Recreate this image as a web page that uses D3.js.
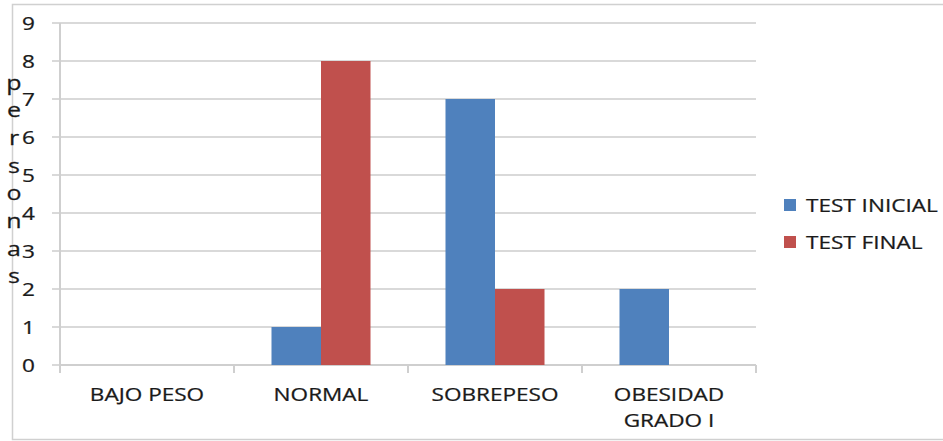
<!DOCTYPE html>
<html>
<head>
<meta charset="utf-8">
<script src="https://cdn.jsdelivr.net/npm/d3@7"></script>
<style>
  body { margin: 0; background: #fff; }
  svg { display: block; }
  text { font-family: "Open Sans", sans-serif; fill: #1a1a1a; stroke: #1a1a1a; stroke-width: 0.25; }
</style>
</head>
<body>
<svg id="chart" width="943" height="441"></svg>
<script>
// Category labels ("\n" marks a line break)
const categories = ["BAJO PESO", "NORMAL", "SOBREPESO", "OBESIDAD\nGRADO I"];
// Series
const seriesNames = ["TEST INICIAL", "TEST FINAL"];
const testInicial = [0, 1, 7, 2];
const testFinal = [0, 8, 2, 0];
// Value axis
const yTicks = [0, 1, 2, 3, 4, 5, 6, 7, 8, 9];
const yTitle = "personas";

const colors = ["#4f81bd", "#c0504d"];
const fontSize = 18.5;
const stretch = 1.22; // horizontal widening of the lettering

const svg = d3.select("#chart");
const plot = { left: 60, right: 756, top: 23, bottom: 365 };

// outer chart frame
svg.append("rect")
  .attr("x", 12.5).attr("y", 4.5)
  .attr("width", 940).attr("height", 435)
  .attr("fill", "none").attr("stroke", "#d0d0d0").attr("stroke-width", 1.5);

const x0 = d3.scaleBand().domain(categories).range([plot.left, plot.right]).padding(0);
const x1 = d3.scaleBand().domain(seriesNames)
  .range([x0.bandwidth() * 0.2155, x0.bandwidth() * 0.7845]).padding(0);
const y = d3.scaleLinear().domain([0, 9]).range([plot.bottom, plot.top]);

function label(g, txt, x, yy, anchor, size = fontSize, sx = stretch) {
  return g.append("text")
    .attr("transform", `translate(${x},${yy}) scale(${sx},1)`)
    .attr("text-anchor", anchor)
    .attr("dominant-baseline", "central")
    .attr("font-size", size)
    .text(txt);
}

// horizontal gridlines with their outside tick marks
const grid = svg.append("g");
grid.selectAll("line").data(yTicks).join("line")
  .attr("x1", plot.left - 8).attr("x2", plot.right)
  .attr("y1", d => y(d)).attr("y2", d => y(d))
  .attr("stroke", "#d9d9d9").attr("stroke-width", 2);

// value labels
const yLab = svg.append("g");
yTicks.forEach(t => label(yLab, String(t), 35, y(t), "end"));

// vertical axis line
svg.append("line")
  .attr("x1", plot.left).attr("x2", plot.left)
  .attr("y1", plot.top).attr("y2", plot.bottom + 8)
  .attr("stroke", "#cfcfcf").attr("stroke-width", 2);

// category axis line and tick marks between categories
svg.append("line")
  .attr("x1", plot.left).attr("x2", plot.right)
  .attr("y1", plot.bottom).attr("y2", plot.bottom)
  .attr("stroke", "#cfcfcf").attr("stroke-width", 2);
const bounds = categories.map(c => x0(c)).concat([x0(categories[categories.length - 1]) + x0.bandwidth()]);
svg.append("g").selectAll("line").data(bounds).join("line")
  .attr("x1", d => d).attr("x2", d => d)
  .attr("y1", plot.bottom).attr("y2", plot.bottom + 8)
  .attr("stroke", "#cfcfcf").attr("stroke-width", 2);

// bars
const series = [testInicial, testFinal];
const barsG = svg.append("g");
seriesNames.forEach((name, si) => {
  barsG.append("g").selectAll("rect")
    .data(categories.map((c, i) => ({ c, v: series[si][i] })))
    .join("rect")
    .attr("x", d => x0(d.c) + x1(name))
    .attr("width", x1.bandwidth())
    .attr("y", d => y(d.v))
    .attr("height", d => y(0) - y(d.v))
    .attr("fill", colors[si]);
});

// category labels
const xLab = svg.append("g");
categories.forEach(c => {
  const cx = x0(c) + x0.bandwidth() / 2;
  c.split("\n").forEach((line, li) => label(xLab, line, cx, 394 + li * 26, "middle"));
});

// vertical stacked axis title
const tG = svg.append("g");
yTitle.split("").forEach((ch, i) => label(tG, ch, 14, 82 + i * 27.7, "middle", 20, 1.25));

// legend
const leg = svg.append("g");
seriesNames.forEach((name, i) => {
  const cy = 205 + i * 37;
  leg.append("rect").attr("x", 784).attr("y", cy - 6).attr("width", 12).attr("height", 12)
    .attr("fill", colors[i]);
  label(leg, name, 806, cy, "start");
});
</script>
</body>
</html>
